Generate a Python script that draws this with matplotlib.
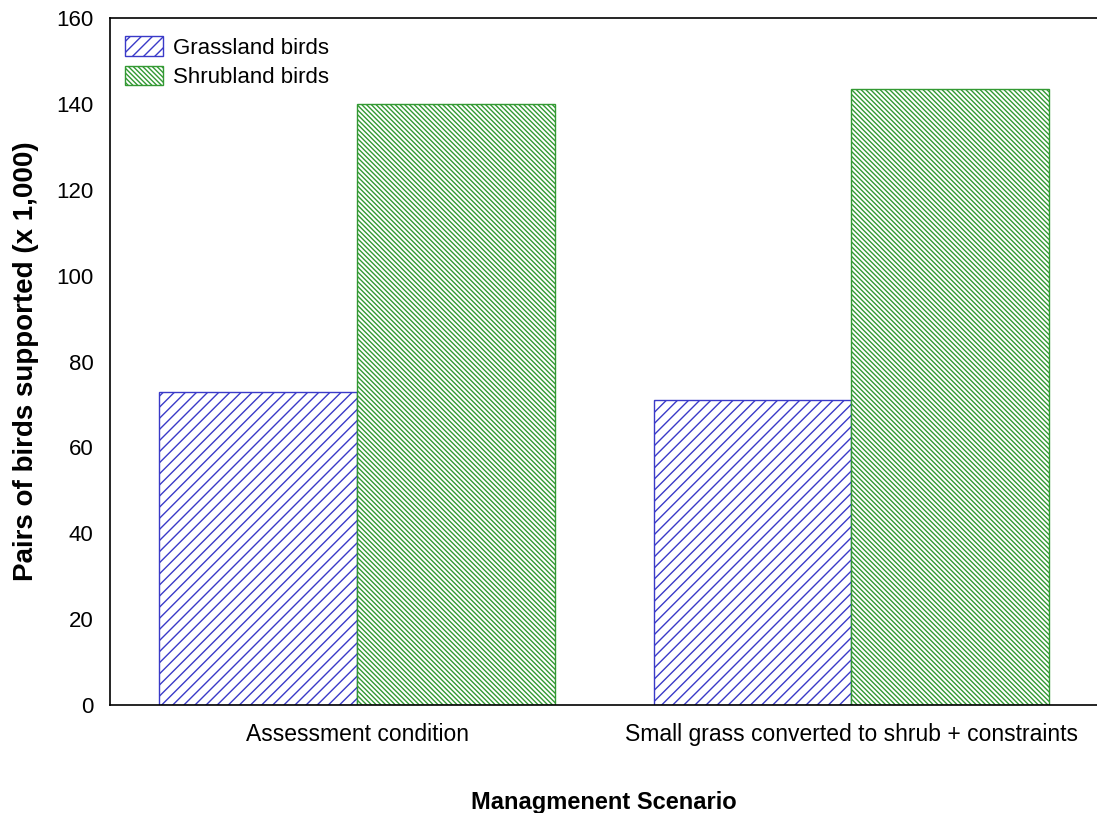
import matplotlib
matplotlib.use('Agg')
import matplotlib.pyplot as plt
import numpy as np

plt.rcParams.update({'font.family': 'Liberation Sans', 'hatch.linewidth': 1.0})

categories = ['Assessment condition', 'Small grass converted to shrub + constraints']
series_names = ['Grassland birds', 'Shrubland birds']
grassland = [73, 71]
shrubland = [140, 143.5]

blue = '#3a3ac8'
green = '#339933'

fig = plt.figure(figsize=(10.97, 8.13), dpi=100)
ax = fig.add_axes([0.1003, 0.1328, 0.9010, 0.8451])

x = np.arange(len(categories))
w = 0.4
ax.bar(x - w / 2, grassland, w, facecolor='white', edgecolor=blue, hatch='///',
       linewidth=1.0, label=series_names[0])
ax.bar(x + w / 2, shrubland, w, facecolor='white', edgecolor=green, hatch='\\' * 7,
       linewidth=1.0, label=series_names[1])

ax.set_xlim(-0.5, 1.5)
ax.set_ylim(0, 160)
ax.set_yticks(np.arange(0, 161, 20))
ax.set_xticks(x)
ax.set_xticklabels(categories)
ax.tick_params(length=0, labelsize=16)
ax.tick_params(axis='y', pad=12)
ax.tick_params(axis='x', labelsize=16.5, pad=13)
for s in ax.spines.values():
    s.set_linewidth(1.2)

ax.set_ylabel('Pairs of birds supported (x 1,000)', fontsize=20, fontweight='bold', labelpad=12)
ax.set_xlabel('Managmenent Scenario', fontsize=17, fontweight='bold', labelpad=32)

leg = ax.legend(loc='upper left', bbox_to_anchor=(0.0044, 0.9894), fontsize=16,
                frameon=True, fancybox=False, borderaxespad=0, handlelength=1.7,
                handleheight=1.0, labelspacing=0.3, handletextpad=0.45, borderpad=0.5)
leg.get_frame().set_edgecolor('none')

fig.savefig('out.png', dpi=100)
